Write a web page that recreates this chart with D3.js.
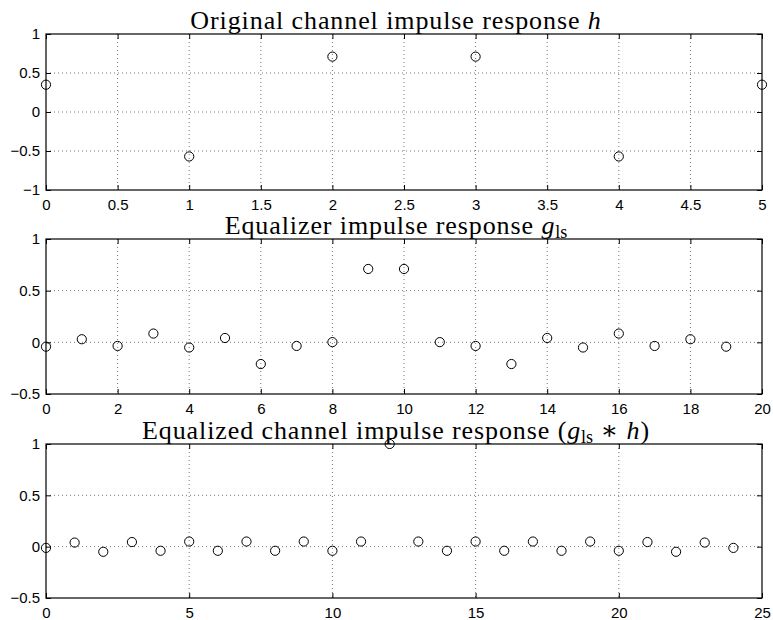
<!DOCTYPE html>
<html>
<head>
<meta charset="utf-8">
<script src="https://cdn.jsdelivr.net/npm/d3@7"></script>
<style>
  body { margin: 0; background: #fff; }
  text { fill: #000; }
</style>
</head>
<body>
<div id="vis"></div>
<script>
const width = 773, height = 620;

// panel 1: original channel h
const hIndex = [0, 1, 2, 3, 4, 5];
const hValues = [0.35, -0.57, 0.71, 0.71, -0.57, 0.35];
const hXTicks = [0, 0.5, 1, 1.5, 2, 2.5, 3, 3.5, 4, 4.5, 5];
const hYTicks = [-1, -0.5, 0, 0.5, 1];

// panel 2: equalizer g_ls
const gIndex = d3.range(20);
const gValues = [-0.042, 0.03, -0.035, 0.085, -0.05, 0.042, -0.21, -0.035, 0.002, 0.71,
                 0.71, 0.002, -0.035, -0.21, 0.042, -0.05, 0.085, -0.035, 0.03, -0.042];
const gXTicks = [0, 2, 4, 6, 8, 10, 12, 14, 16, 18, 20];
const gYTicks = [-0.5, 0, 0.5, 1];

// panel 3: equalized channel g_ls * h
const eIndex = d3.range(25);
const eValues = [-0.012, 0.04, -0.05, 0.045, -0.04, 0.05, -0.04, 0.05, -0.04, 0.05,
                 -0.04, 0.05, 1.0, 0.05, -0.04, 0.05, -0.04, 0.05, -0.04, 0.05,
                 -0.04, 0.045, -0.05, 0.04, -0.012];
const eXTicks = [0, 5, 10, 15, 20, 25];
const eYTicks = [-0.5, 0, 0.5, 1];

const left = 46, right = 762;

const panels = [
  { top: 34, bottom: 190, xDomain: [0, 5], yDomain: [-1, 1], xs: hIndex, ys: hValues,
    xTicks: hXTicks, yTicks: hYTicks, title: "h" },
  { top: 239, bottom: 394, xDomain: [0, 20], yDomain: [-0.5, 1], xs: gIndex, ys: gValues,
    xTicks: gXTicks, yTicks: gYTicks, title: "g" },
  { top: 444, bottom: 598, xDomain: [0, 25], yDomain: [-0.5, 1], xs: eIndex, ys: eValues,
    xTicks: eXTicks, yTicks: eYTicks, title: "e" }
];

const svg = d3.select("#vis").append("svg")
    .attr("width", width)
    .attr("height", height);

const fmt = v => String(v).replace("-", "\u2212");

panels.forEach(p => {
  const x = d3.scaleLinear().domain(p.xDomain).range([left, right]);
  const y = d3.scaleLinear().domain(p.yDomain).range([p.bottom, p.top]);
  const g = svg.append("g");

  // dotted grid, not on the frame
  g.selectAll(".gx").data(p.xTicks.slice(1, -1)).enter().append("line")
    .attr("x1", d => x(d)).attr("x2", d => x(d))
    .attr("y1", p.top).attr("y2", p.bottom)
    .attr("stroke", "#555").attr("stroke-dasharray", "1,3").attr("stroke-width", 0.8);
  g.selectAll(".gy").data(p.yTicks.slice(1, -1)).enter().append("line")
    .attr("y1", d => y(d)).attr("y2", d => y(d))
    .attr("x1", left).attr("x2", right)
    .attr("stroke", "#555").attr("stroke-dasharray", "1,3").attr("stroke-width", 0.8);

  // axes with inward ticks on all four sides
  const tick = 5;
  g.append("g").attr("transform", `translate(0,${p.bottom})`)
    .call(d3.axisBottom(x).tickValues(p.xTicks).tickSize(-tick).tickPadding(9).tickFormat(fmt));
  g.append("g").attr("transform", `translate(0,${p.top})`)
    .call(d3.axisTop(x).tickValues(p.xTicks).tickSize(-tick).tickFormat(""));
  g.append("g").attr("transform", `translate(${left},0)`)
    .call(d3.axisLeft(y).tickValues(p.yTicks).tickSize(-tick).tickPadding(6).tickFormat(fmt));
  g.append("g").attr("transform", `translate(${right},0)`)
    .call(d3.axisRight(y).tickValues(p.yTicks).tickSize(-tick).tickFormat(""));

  g.selectAll(".domain").remove();
  g.selectAll(".tick line").attr("stroke", "#000");
  g.selectAll(".tick text")
    .attr("font-family", "'Liberation Sans', Arial, sans-serif")
    .attr("font-size", 15)
    .attr("fill", "#111");

  g.append("rect")
    .attr("x", left).attr("y", p.top)
    .attr("width", right - left).attr("height", p.bottom - p.top)
    .attr("fill", "none").attr("stroke", "#000").attr("stroke-width", 1.2);

  // markers
  g.selectAll("circle").data(p.xs.map((d, i) => [d, p.ys[i]])).enter().append("circle")
    .attr("cx", d => x(d[0])).attr("cy", d => y(d[1]))
    .attr("r", 4.6)
    .attr("fill", "none").attr("stroke", "#000").attr("stroke-width", 1);

  // title
  const t = svg.append("text")
    .attr("x", 396).attr("y", p.top - 5)
    .attr("text-anchor", "middle")
    .attr("font-family", "'Liberation Serif', 'DejaVu Serif', serif")
    .attr("font-size", 26)
    .attr("letter-spacing", 0.9)
    .attr("fill", "#222");
  const sub = (sel) => {
    sel.append("tspan").attr("font-style", "italic").text("g");
    sel.append("tspan").attr("font-size", 18).attr("dy", 4).attr("letter-spacing", 0).text("ls");
  };
  if (p.title === "h") {
    t.append("tspan").text("Original channel impulse response ");
    t.append("tspan").attr("font-style", "italic").text("h");
  } else if (p.title === "g") {
    t.append("tspan").text("Equalizer impulse response ");
    sub(t);
  } else {
    t.append("tspan").text("Equalized channel impulse response (");
    sub(t);
    t.append("tspan").attr("dy", -4).text(" \u2217 ");
    t.append("tspan").attr("font-style", "italic").text("h");
    t.append("tspan").text(")");
  }
});
</script>
</body>
</html>
